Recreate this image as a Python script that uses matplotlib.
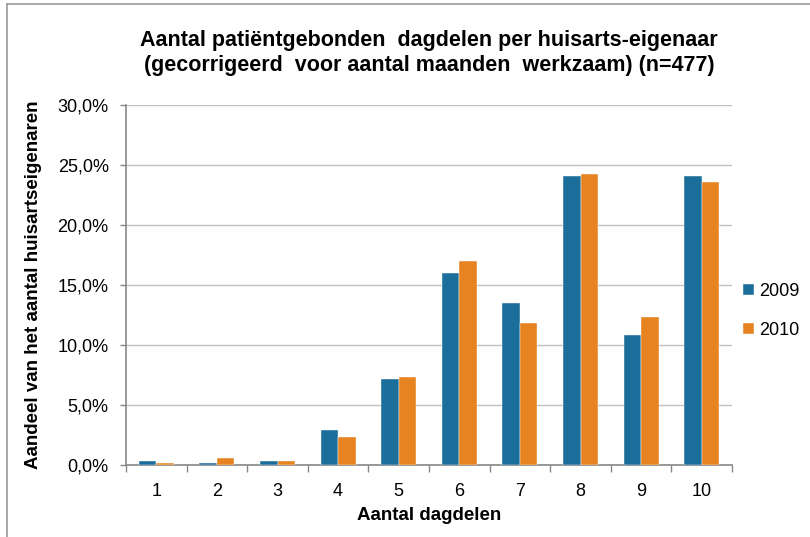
import numpy as np
import matplotlib.pyplot as plt
from matplotlib.lines import Line2D
from matplotlib.ticker import FuncFormatter, MultipleLocator, FixedLocator, NullFormatter

plt.rcParams['font.family'] = ['Liberation Sans', 'DejaVu Sans']

# ── data ──────────────────────────────────────────────────────────
categories = [1, 2, 3, 4, 5, 6, 7, 8, 9, 10]
share_2009 = [0.3, 0.15, 0.3, 2.9, 7.2, 16.0, 13.5, 24.1, 10.85, 24.1]
share_2010 = [0.2, 0.6, 0.3, 2.3, 7.3, 17.0, 11.8, 24.25, 12.3, 23.6]
series_labels = ["2009", "2010"]

title = ("Aantal patiëntgebonden  dagdelen per huisarts-eigenaar\n"
         "(gecorrigeerd  voor aantal maanden  werkzaam) (n=477)")

BLUE = "#1b6e99"
ORANGE = "#e88322"
GRID = "#c0c0c0"
AXIS = "#888888"

fig = plt.figure(figsize=(8.1, 5.37), dpi=100)
ax = fig.add_axes([126 / 810, 1 - 465 / 537, (732 - 126) / 810, 360 / 537])

x = np.arange(len(categories))
w = 0.29
ax.bar(x - w / 2, share_2009, width=w, color=BLUE, label=series_labels[0],
       edgecolor="white", linewidth=0.3, zorder=3)
ax.bar(x + w / 2, share_2010, width=w, color=ORANGE, label=series_labels[1],
       edgecolor="white", linewidth=0.3, zorder=3)

ax.set_xlim(-0.5, len(categories) - 0.5)
ax.set_ylim(0, 30)
ax.yaxis.set_major_locator(MultipleLocator(5))
ax.yaxis.set_major_formatter(
    FuncFormatter(lambda v, _: f"{v:.1f}%".replace(".", ",")))
ax.grid(axis="y", color=GRID, linewidth=1, zorder=0)

# category labels centred, tick marks between categories
ax.set_xticks(x)
ax.set_xticklabels([str(c) for c in categories])
ax.tick_params(axis="x", which="major", length=0, pad=13, labelsize=13)
ax.xaxis.set_minor_locator(FixedLocator(np.arange(-0.5, len(categories), 1)))
ax.xaxis.set_minor_formatter(NullFormatter())
ax.tick_params(axis="x", which="minor", length=5, width=1, color=AXIS,
               direction="out")
ax.tick_params(axis="y", length=4.5, width=1, color=AXIS, labelsize=13, pad=8)

for side in ("top", "right"):
    ax.spines[side].set_visible(False)
for side in ("left", "bottom"):
    ax.spines[side].set_color(AXIS)
    ax.spines[side].set_linewidth(1.2)

ax.set_xlabel("Aantal dagdelen", fontsize=13.5, fontweight="bold", labelpad=5)
ax.set_ylabel("Aandeel van het aantal huisartseigenaren", fontsize=13.5,
              fontweight="bold", labelpad=11)

fig.text(429 / 810, 1 - 53 / 537, title, ha="center", va="center",
         fontsize=15.5, fontweight="bold", linespacing=1.3)

ax.legend(loc="center left", bbox_to_anchor=(1.0, 0.428), frameon=False,
          fontsize=13, handlelength=0.6, handleheight=0.6,
          handletextpad=0.3, labelspacing=1.2, borderaxespad=0.2)

# chart-area border (only top and left visible in the crop)
fig.add_artist(Line2D([7 / 810, 1], [1 - 4 / 537, 1 - 4 / 537],
                      color="#999999", linewidth=1.2))
fig.add_artist(Line2D([7 / 810, 7 / 810], [0, 1 - 4 / 537],
                      color="#999999", linewidth=1.2))

fig.savefig("out.png", dpi=100)
